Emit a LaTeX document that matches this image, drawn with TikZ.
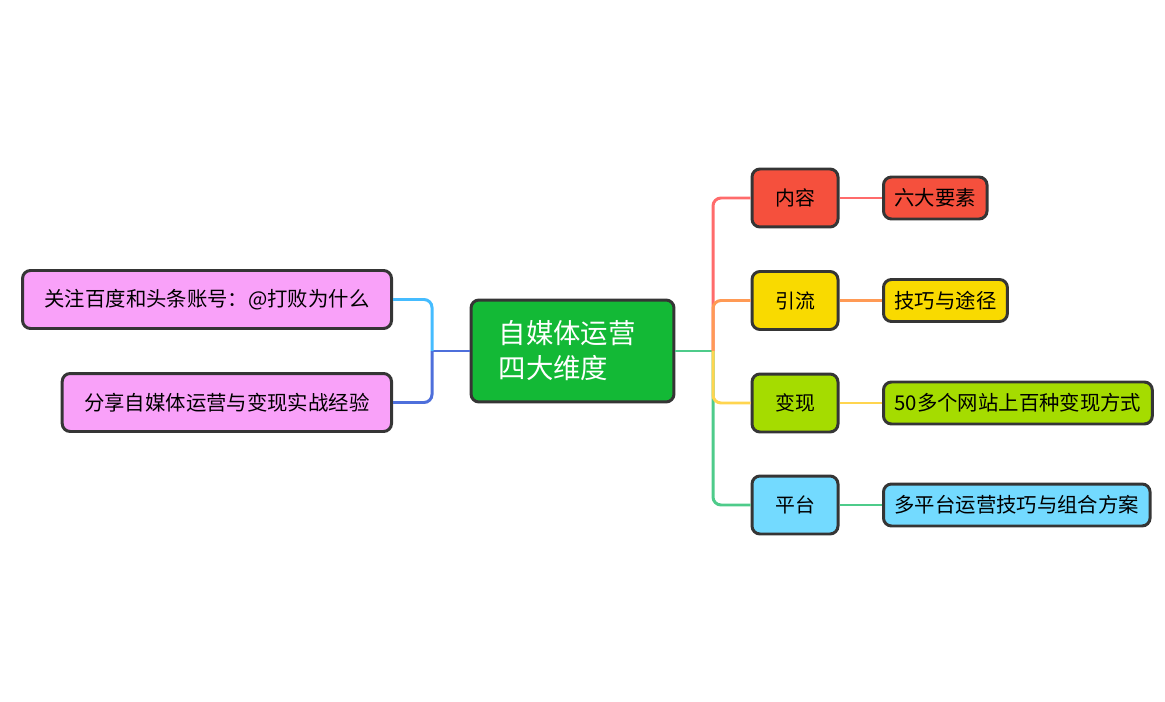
\documentclass[tikz,border=0pt]{standalone}
\usepackage{fontspec}
\setmainfont{Noto Sans CJK SC}
\usepackage{xcolor}
\definecolor{topicgreen}{HTML}{13B936}
\definecolor{boxborder}{HTML}{353535}
\definecolor{contentred}{HTML}{F5503D}
\definecolor{trafficyellow}{HTML}{F9DA00}
\definecolor{cashlime}{HTML}{A5DC00}
\definecolor{platformblue}{HTML}{73DAFF}
\definecolor{notepink}{HTML}{F9A1F9}
\definecolor{linered}{HTML}{FF6B6B}
\definecolor{lineorange}{HTML}{FF9A55}
\definecolor{lineyellow}{HTML}{FFD54F}
\definecolor{linegreen}{HTML}{4ECB8A}
\definecolor{linecyan}{HTML}{45BCFF}
\definecolor{lineblue}{HTML}{4E6FDB}

\tikzset{
  mapbox/.style={draw=boxborder, line width=1.7pt, rounded corners=0.16cm, text=black},
  topicbox/.style={mapbox, fill=topicgreen, text=white, align=left,
    text width=2.95cm, minimum width=4.06cm, minimum height=2.04cm,
    font=\fontsize{15.6}{20}\selectfont},
  branchbox/.style={mapbox, minimum width=1.72cm, minimum height=1.16cm,
    font=\fontsize{11.3}{12}\selectfont},
  leafbox/.style={mapbox, inner xsep=0.22cm, minimum height=0.84cm,
    font=\fontsize{11.6}{12}\selectfont},
  notebox/.style={mapbox, fill=notepink, inner xsep=0.44cm, minimum height=1.16cm,
    font=\fontsize{11.6}{12}\selectfont},
  link/.style={line width=1.7pt, rounded corners=0.16cm}
}

\begin{document}
\begin{tikzpicture}[x=0.02cm, y=-0.02cm]

  % Canvas
  \useasboundingbox (0, 0) rectangle (1165, 702);

  % Central topic
  \node[topicbox] (topic) at (572.5, 351) {自媒体运营\\四大维度};

  % Right branches
  \node[branchbox, fill=contentred] (content) at (795, 198) {内容};
  \node[branchbox, fill=trafficyellow] (traffic) at (795, 300.5) {引流};
  \node[branchbox, fill=cashlime] (cash) at (795, 403) {变现};
  \node[branchbox, fill=platformblue] (platform) at (795, 505) {平台};

  % Leaves
  \node[leafbox, fill=contentred, anchor=west] (contentleaf) at (882, 198) {六大要素};
  \node[leafbox, fill=trafficyellow, anchor=west] (trafficleaf) at (882, 300.5) {技巧与途径};
  \node[leafbox, fill=cashlime, anchor=west] (cashleaf) at (882, 403) {50多个网站上百种变现方式};
  \node[leafbox, fill=platformblue, anchor=west] (platformleaf) at (882, 505) {多平台运营技巧与组合方案};

  % Left notes
  \node[notebox, anchor=east] (follow) at (393, 299.5) {关注百度和头条账号：@打败为什么};
  \node[notebox, anchor=east] (share) at (393, 402.5) {分享自媒体运营与变现实战经验};

  % Trunks
  \coordinate (rtrunk) at (713, 351);
  \coordinate (ltrunk) at (432, 351);

  % Right connectors
  \draw[link, linegreen] (topic.east) -- (rtrunk);
  \draw[link, linered] (rtrunk) |- (content.west);
  \draw[link, lineorange] (rtrunk) |- (traffic.west);
  \draw[link, linegreen] (rtrunk) |- (platform.west);
  \draw[link, lineyellow] (rtrunk) |- (cash.west);

  \draw[link, linered] (content.east) -- (contentleaf.west);
  \draw[link, lineorange] (traffic.east) -- (trafficleaf.west);
  \draw[link, lineyellow] (cash.east) -- (cashleaf.west);
  \draw[link, linegreen] (platform.east) -- (platformleaf.west);

  % Left connectors
  \draw[link, lineblue] (topic.west) -- (ltrunk);
  \draw[link, linecyan] (ltrunk) |- (follow.east);
  \draw[link, lineblue] (ltrunk) |- (share.east);

\end{tikzpicture}
\end{document}
